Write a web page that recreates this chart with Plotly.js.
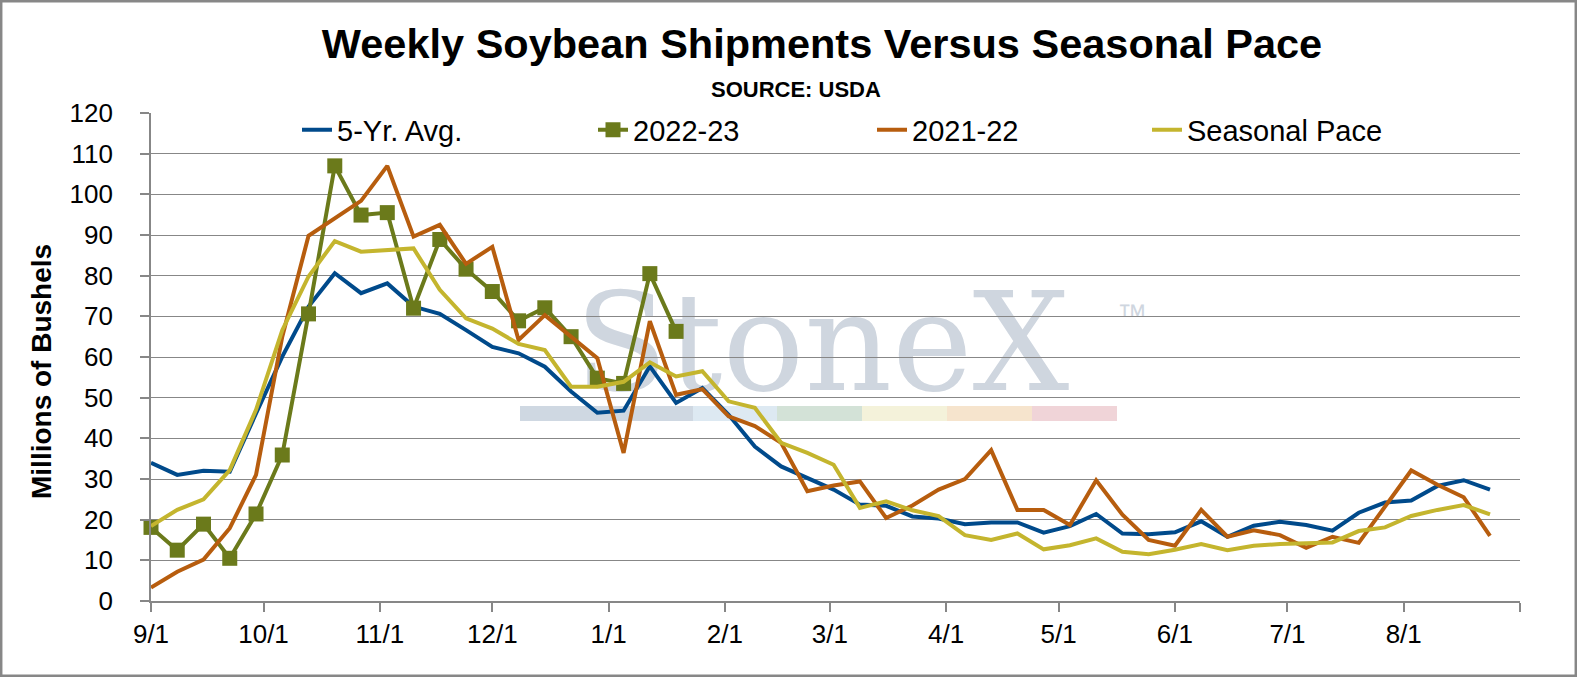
<!DOCTYPE html>
<html>
<head>
<meta charset="utf-8">
<script src="https://cdn.plot.ly/plotly-3.0.1.min.js"></script>
<style>
  html, body { margin: 0; padding: 0; background: #fff; }
  #chart { width: 1577px; height: 677px; }
</style>
</head>
<body>
<div id="chart"></div>
<script>
// week ending dates, marketing year Sep-Aug
var weeks = [
  '2022-09-01', '2022-09-08', '2022-09-15', '2022-09-22', '2022-09-29',
  '2022-10-06', '2022-10-13', '2022-10-20', '2022-10-27',
  '2022-11-03', '2022-11-10', '2022-11-17', '2022-11-24',
  '2022-12-01', '2022-12-08', '2022-12-15', '2022-12-22', '2022-12-29',
  '2023-01-05', '2023-01-12', '2023-01-19', '2023-01-26',
  '2023-02-02', '2023-02-09', '2023-02-16', '2023-02-23',
  '2023-03-02', '2023-03-09', '2023-03-16', '2023-03-23', '2023-03-30',
  '2023-04-06', '2023-04-13', '2023-04-20', '2023-04-27',
  '2023-05-04', '2023-05-11', '2023-05-18', '2023-05-25',
  '2023-06-01', '2023-06-08', '2023-06-15', '2023-06-22', '2023-06-29',
  '2023-07-06', '2023-07-13', '2023-07-20', '2023-07-27',
  '2023-08-03', '2023-08-10', '2023-08-17', '2023-08-24'
];

var avg5yr = [
  34.0, 31.0, 32.0, 31.8, 46.1, 60.1, 72.4, 80.6, 75.7, 78.1,
  72.4, 70.6, 66.6, 62.5, 60.9, 57.6, 51.5, 46.3, 46.8, 57.7,
  48.7, 52.4, 45.8, 38.0, 33.1, 30.2, 27.4, 23.7, 23.4, 20.8,
  20.3, 18.9, 19.3, 19.3, 16.8, 18.4, 21.4, 16.6, 16.4, 16.9,
  19.6, 15.8, 18.5, 19.5, 18.7, 17.3, 21.7, 24.2, 24.7, 28.3,
  29.7, 27.4
];

var y2223 = [
  18.1, 12.5, 18.9, 10.5, 21.4, 35.9, 70.6, 107.0, 94.9, 95.5,
  72.0, 88.9, 81.6, 76.1, 68.9, 72.1, 65.0, 54.8, 53.5, 80.5,
  66.3
];

var y2122 = [
  3.3, 7.2, 10.2, 17.9, 31.0, 65.0, 89.8, 94.1, 98.4, 107.0,
  89.6, 92.5, 82.9, 87.1, 64.2, 70.3, 65.0, 59.7, 36.4, 68.8,
  50.7, 52.1, 45.4, 43.0, 38.9, 27.0, 28.4, 29.4, 20.4, 23.5,
  27.4, 30.0, 37.1, 22.4, 22.4, 18.7, 29.7, 21.2, 15.0, 13.6,
  22.4, 15.8, 17.4, 16.2, 13.1, 15.8, 14.3, 23.2, 32.1, 28.6,
  25.5, 16.0
];

var seasonal = [
  18.4, 22.4, 25.0, 32.2, 47.0, 66.6, 79.8, 88.5, 85.9, 86.3,
  86.7, 76.5, 69.5, 67.0, 63.2, 61.7, 52.7, 52.7, 53.9, 58.7,
  55.2, 56.5, 49.1, 47.5, 38.9, 36.4, 33.5, 22.9, 24.5, 22.3,
  20.9, 16.2, 15.0, 16.6, 12.7, 13.7, 15.4, 12.1, 11.5, 12.6,
  14.0, 12.5, 13.6, 14.0, 14.1, 14.4, 17.2, 18.1, 20.9, 22.4,
  23.6, 21.3
];

var monthTicks = [
  '2022-09-01', '2022-10-01', '2022-11-01', '2022-12-01', '2023-01-01',
  '2023-02-01', '2023-03-01', '2023-04-01', '2023-05-01', '2023-06-01',
  '2023-07-01', '2023-08-01', '2023-09-01'
];
var monthLabels = ['9/1', '10/1', '11/1', '12/1', '1/1', '2/1', '3/1',
  '4/1', '5/1', '6/1', '7/1', '8/1', ''];

var grey = '#878787';
var font = 'Liberation Sans, Arial, sans-serif';

var trace1 = {
  x: weeks, y: avg5yr, name: '5-Yr. Avg.', type: 'scatter', mode: 'lines',
  line: { color: '#004a8b', width: 4 }, cliponaxis: false, legend: 'legend'
};
var trace2 = {
  x: weeks.slice(0, y2223.length), y: y2223, name: '2022-23', type: 'scatter',
  mode: 'lines+markers',
  line: { color: '#6b7a1b', width: 4 },
  marker: { color: '#6b7a1b', symbol: 'square', size: 15 },
  cliponaxis: false, legend: 'legend2'
};
var trace3 = {
  x: weeks, y: y2122, name: '2021-22', type: 'scatter', mode: 'lines',
  line: { color: '#b75d0e', width: 4 }, cliponaxis: false, legend: 'legend3'
};
var trace4 = {
  x: weeks, y: seasonal, name: 'Seasonal Pace', type: 'scatter', mode: 'lines',
  line: { color: '#c4b52e', width: 4 }, cliponaxis: false, legend: 'legend4'
};

// plot area is 151..1520 px wide, 113..601 px tall
function px(x) { return (x - 151) / 1369; }
function py(y) { return (601 - y) / 488; }

function legendAt(left) {
  return {
    x: px(left), y: py(130), xanchor: 'left', yanchor: 'middle',
    orientation: 'h', bgcolor: 'rgba(0,0,0,0)', borderwidth: 0,
    font: { family: font, size: 29, color: '#000' }
  };
}

// faint logo behind the lines
var barColors = ['#cfd8e2', '#cfd8e2', '#dde9f2', '#d3e2d7', '#f4f2da', '#f6e4cd', '#f0d4d8'];
var barEdges = [520, 608, 693, 777, 862, 947, 1032, 1117];
var shapes = [];
for (var i = 0; i < barColors.length; i++) {
  shapes.push({
    type: 'rect', xref: 'paper', yref: 'paper', layer: 'below',
    x0: px(barEdges[i]), x1: px(barEdges[i + 1]), y0: py(421), y1: py(406),
    fillcolor: barColors[i], line: { width: 0 }
  });
}
shapes.push({
  type: 'rect', xref: 'paper', yref: 'paper', layer: 'below',
  x0: px(527), x1: px(1117), y0: py(395), y1: py(270),
  fillcolor: 'rgba(0,0,0,0)', line: { width: 0 },
  label: { text: 'StoneX', textposition: 'middle center',
    font: { family: 'DejaVu Serif, serif', size: 136, color: '#cfd6df' } }
});
shapes.push({
  type: 'rect', xref: 'paper', yref: 'paper', layer: 'below',
  x0: px(1112), x1: px(1152), y0: py(326), y1: py(296),
  fillcolor: 'rgba(0,0,0,0)', line: { width: 0 },
  label: { text: '\u2122', textposition: 'middle center',
    font: { family: font, size: 30, color: '#cfd6df' } }
});
// outer chart border
shapes.push({
  type: 'rect', xref: 'paper', yref: 'paper', layer: 'above',
  x0: px(1.2), x1: px(1575.8), y0: py(675.8), y1: py(1.2),
  line: { color: grey, width: 2.5 }
});

var layout = {
  width: 1577,
  height: 677,
  margin: { l: 151, r: 57, t: 113, b: 76 },
  paper_bgcolor: '#fff',
  plot_bgcolor: '#fff',
  showlegend: true,
  title: {
    text: 'Weekly Soybean Shipments Versus Seasonal Pace',
    font: { family: font, size: 41.5, color: '#000', weight: 'bold' },
    xref: 'paper', x: px(822), xanchor: 'center',
    yref: 'container', y: 1 - 43 / 677, yanchor: 'middle'
  },
  annotations: [
    {
      xref: 'paper', yref: 'paper', x: px(796), y: py(90),
      xanchor: 'center', yanchor: 'middle', showarrow: false,
      text: 'SOURCE: USDA',
      font: { family: font, size: 22, color: '#000', weight: 'bold' }
    },
    {
      xref: 'paper', yref: 'paper', x: px(41), y: py(372),
      xanchor: 'center', yanchor: 'middle', showarrow: false, textangle: -90,
      text: 'Millions of Bushels',
      font: { family: font, size: 28, color: '#000', weight: 'bold' }
    }
  ],
  shapes: shapes,
  legend: legendAt(297),
  legend2: legendAt(593),
  legend3: legendAt(872),
  legend4: legendAt(1147),
  xaxis: {
    type: 'date',
    range: ['2022-09-01', '2023-09-01'],
    tickmode: 'array',
    tickvals: monthTicks,
    ticktext: monthLabels,
    showgrid: false,
    zeroline: false,
    showline: true,
    linecolor: grey,
    linewidth: 1.8,
    ticks: 'outside',
    ticklen: 9,
    tickwidth: 1.8,
    tickcolor: grey,
    tickfont: { family: font, size: 26, color: '#000' }
  },
  yaxis: {
    range: [0, 120],
    dtick: 10,
    showgrid: true,
    gridcolor: grey,
    gridwidth: 1.4,
    zeroline: false,
    showline: true,
    linecolor: grey,
    linewidth: 1.8,
    ticks: 'outside',
    ticklen: 9,
    tickwidth: 1.8,
    tickcolor: grey,
    ticklabelstandoff: 22,
    tickfont: { family: font, size: 26, color: '#000' }
  }
};

Plotly.newPlot('chart', [trace1, trace2, trace3, trace4], layout, { displayModeBar: false });
</script>
</body>
</html>
